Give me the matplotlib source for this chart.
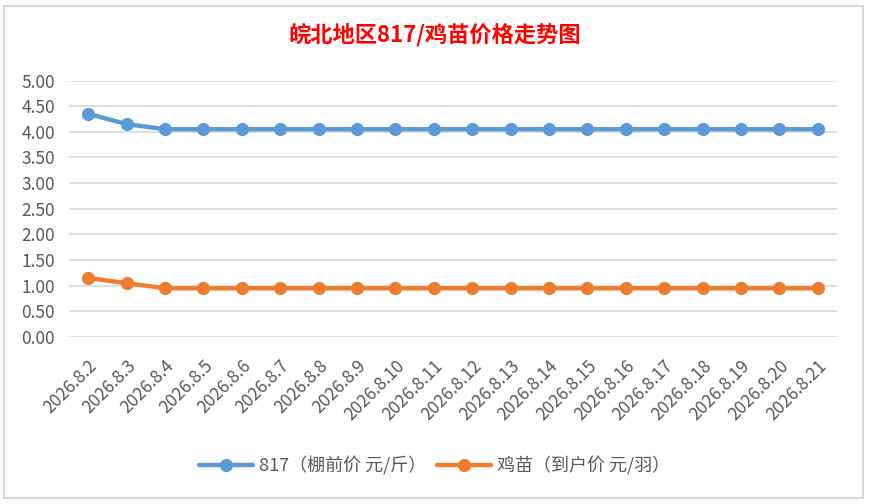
import matplotlib
matplotlib.use("Agg")
import matplotlib.pyplot as plt
from matplotlib.patches import Rectangle

plt.rcParams['font.family'] = ['Noto Sans CJK SC', 'DejaVu Sans']

dates = ["2026.8.2", "2026.8.3", "2026.8.4", "2026.8.5", "2026.8.6", "2026.8.7",
         "2026.8.8", "2026.8.9", "2026.8.10", "2026.8.11", "2026.8.12", "2026.8.13",
         "2026.8.14", "2026.8.15", "2026.8.16", "2026.8.17", "2026.8.18", "2026.8.19",
         "2026.8.20", "2026.8.21"]
price_817 = [4.35, 4.15, 4.05, 4.05, 4.05, 4.05, 4.05, 4.05, 4.05, 4.05,
             4.05, 4.05, 4.05, 4.05, 4.05, 4.05, 4.05, 4.05, 4.05, 4.05]
price_chick = [1.15, 1.05, 0.95, 0.95, 0.95, 0.95, 0.95, 0.95, 0.95, 0.95,
               0.95, 0.95, 0.95, 0.95, 0.95, 0.95, 0.95, 0.95, 0.95, 0.95]
yticks = [0, 0.5, 1.0, 1.5, 2.0, 2.5, 3.0, 3.5, 4.0, 4.5, 5.0]

label_817 = "817（棚前价 元/斤）"
label_chick = "鸡苗（到户价 元/羽）"
title = "皖北地区817/鸡苗价格走势图"

W, H = 869, 504
fig = plt.figure(figsize=(W / 100, H / 100), dpi=100)
fig.patch.set_facecolor("white")

# chart border
fig.add_artist(Rectangle((4 / W, 6 / H), 859 / W, 492 / H, transform=fig.transFigure,
                         fill=False, edgecolor="#d9d9d9", linewidth=1.5))

ax = fig.add_axes([69 / W, 1 - 337 / H, 768 / W, (337 - 80.5) / H])
x = list(range(len(dates)))
ax.plot(x, price_817, color="#5b9bd5", linewidth=3.2, marker="o", markersize=8.5,
        label=label_817, solid_capstyle="round")
ax.plot(x, price_chick, color="#ed7d31", linewidth=3.2, marker="o", markersize=8.5,
        label=label_chick, solid_capstyle="round")

ax.set_xlim(-0.5, len(dates) - 0.5)
ax.set_ylim(0, 5)
ax.set_yticks(yticks)
ax.set_yticklabels([f"{v:.2f}" for v in yticks])
ax.set_xticks(x)
ax.set_xticklabels(dates, rotation=45, ha="right", rotation_mode="anchor")
ax.tick_params(axis="both", length=0, colors="#595959", labelsize=12.5)
ax.tick_params(axis="x", pad=14)
ax.tick_params(axis="y", pad=10)
ax.grid(axis="y", color="#d9d9d9", linewidth=1.2)
ax.set_axisbelow(True)
for s in ax.spines.values():
    s.set_visible(False)

fig.text(0.5, 1 - 35 / H, title, color="#ff0000", fontsize=16, fontweight="bold",
         ha="center", va="center")

fig.legend(loc="center", bbox_to_anchor=(0.5, 1 - 466 / H), ncol=2, frameon=False,
           fontsize=13, labelcolor="#595959", handlelength=3.0, columnspacing=0.6,
           handletextpad=0.3)

fig.savefig("out.png", dpi=100, facecolor="white")
